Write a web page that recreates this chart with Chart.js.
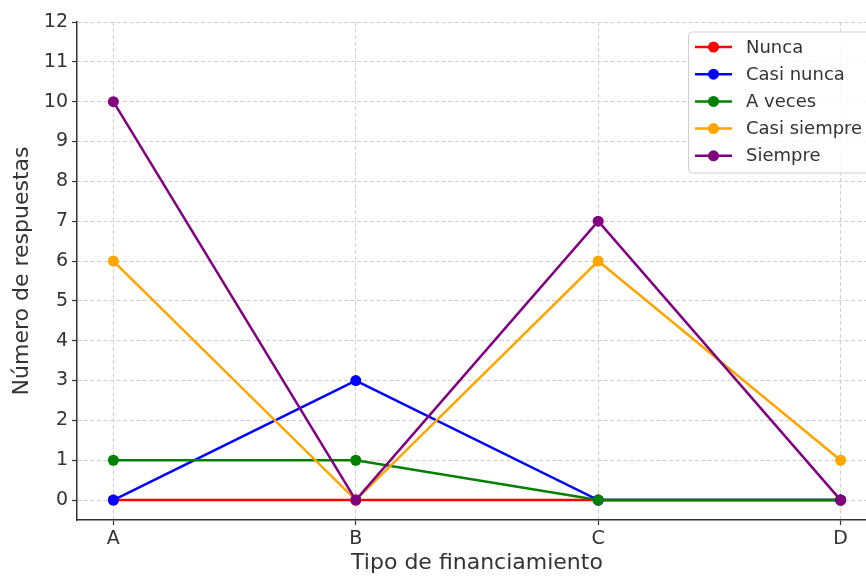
<!DOCTYPE html>
<html>
<head>
<meta charset="utf-8">
<script src="https://cdn.jsdelivr.net/npm/chart.js@4.4.1/dist/chart.umd.min.js"></script>
<style>
  html, body { margin: 0; padding: 0; background: #fff; overflow: hidden; width: 866px; height: 576px; }
  canvas { display: block; }
</style>
</head>
<body>
<canvas id="c" width="900" height="576"></canvas>
<script>
const categories = ['A', 'B', 'C', 'D'];
const yTicks = [0, 1, 2, 3, 4, 5, 6, 7, 8, 9, 10, 11, 12];
const seriesNames = ['Nunca', 'Casi nunca', 'A veces', 'Casi siempre', 'Siempre'];
const nunca = [0, 0, 0, 0];
const casiNunca = [0, 3, 0, 0];
const aVeces = [1, 1, 0, 0];
const casiSiempre = [6, 0, 6, 1];
const siempre = [10, 0, 7, 0];
const seriesColors = ['#ff0000', '#0000ff', '#008000', '#ffa500', '#800080'];

const seriesValues = [nunca, casiNunca, aVeces, casiSiempre, siempre];
const TEXT = '#333333';

const datasets = seriesValues.map((vals, i) => ({
  label: seriesNames[i],
  data: vals.map((v, k) => ({ x: k, y: v })),
  borderColor: seriesColors[i],
  backgroundColor: seriesColors[i],
  borderWidth: 2.5,
  pointRadius: 5.5,
  pointHoverRadius: 5.5,
  pointBorderWidth: 0,
  tension: 0,
  order: seriesValues.length - i
}));

const legendPlugin = {
  id: 'mplLegend',
  afterDraw(chart) {
    const ctx = chart.ctx;
    ctx.save();
    const x0 = 688.5, y0 = 32, w = 200, h = 141, r = 4;
    ctx.beginPath();
    ctx.moveTo(x0 + r, y0);
    ctx.lineTo(x0 + w - r, y0);
    ctx.arcTo(x0 + w, y0, x0 + w, y0 + r, r);
    ctx.lineTo(x0 + w, y0 + h - r);
    ctx.arcTo(x0 + w, y0 + h, x0 + w - r, y0 + h, r);
    ctx.lineTo(x0 + r, y0 + h);
    ctx.arcTo(x0, y0 + h, x0, y0 + h - r, r);
    ctx.lineTo(x0, y0 + r);
    ctx.arcTo(x0, y0, x0 + r, y0, r);
    ctx.closePath();
    ctx.fillStyle = 'rgba(255,255,255,0.85)';
    ctx.fill();
    ctx.strokeStyle = '#d0d0d0';
    ctx.lineWidth = 1;
    ctx.stroke();
    ctx.font = '18px "DejaVu Sans"';
    ctx.textBaseline = 'middle';
    ctx.textAlign = 'left';
    chart.data.datasets.forEach((ds, i) => {
      const y = 47 + i * 27.2;
      ctx.strokeStyle = ds.borderColor;
      ctx.lineWidth = 2.5;
      ctx.beginPath();
      ctx.moveTo(695, y);
      ctx.lineTo(732, y);
      ctx.stroke();
      ctx.fillStyle = ds.borderColor;
      ctx.beginPath();
      ctx.arc(713.5, y, 5.5, 0, Math.PI * 2);
      ctx.fill();
      ctx.fillStyle = TEXT;
      ctx.fillText(ds.label, 746, y + 1);
    });
    ctx.restore();
  }
};

Chart.defaults.font.family = '"DejaVu Sans", sans-serif';
Chart.defaults.color = TEXT;

new Chart(document.getElementById('c'), {
  type: 'line',
  data: { datasets },
  options: {
    responsive: false,
    animation: false,
    devicePixelRatio: 1,
    layout: { padding: { left: 0, top: 22, right: 23, bottom: 0 } },
    plugins: { legend: { display: false }, tooltip: { enabled: false } },
    scales: {
      x: {
        type: 'linear',
        min: -0.15,
        max: 3.15,
        afterBuildTicks: (axis) => { axis.ticks = categories.map((c, i) => ({ value: i })); },
        afterFit: (scale) => { scale.height = 56; },
        ticks: {
          callback: (v) => categories[v],
          font: { size: 19 },
          color: TEXT,
          padding: 3,
          maxRotation: 0,
          autoSkip: false
        },
        grid: {
          color: '#cfcfcf',
          lineWidth: 1,
          drawTicks: true,
          tickLength: 5,
          tickColor: TEXT,
          tickWidth: 1.2,
          tickBorderDash: []
        },
        border: { display: true, color: TEXT, width: 1.5, dash: [4, 2.5] },
        title: {
          display: true,
          text: 'Tipo de financiamiento',
          font: { size: 22, lineHeight: 1 },
          color: TEXT,
          padding: { top: 0, bottom: 2 }
        }
      },
      y: {
        type: 'linear',
        min: -0.5,
        max: 12,
        afterBuildTicks: (axis) => { axis.ticks = yTicks.map(v => ({ value: v })); },
        afterFit: (scale) => { scale.width = 77; },
        ticks: {
          callback: (v) => String(v),
          font: { size: 19 },
          color: TEXT,
          padding: 4
        },
        grid: {
          color: '#cfcfcf',
          lineWidth: 1,
          drawTicks: true,
          tickLength: 5,
          tickColor: TEXT,
          tickWidth: 1.2,
          tickBorderDash: []
        },
        border: { display: true, color: TEXT, width: 1.5, dash: [4, 2.5] },
        title: {
          display: true,
          text: 'Número de respuestas',
          font: { size: 22, lineHeight: 1 },
          color: TEXT,
          padding: { top: 11.5, bottom: 0 }
        }
      }
    }
  },
  plugins: [legendPlugin]
});
</script>
</body>
</html>
